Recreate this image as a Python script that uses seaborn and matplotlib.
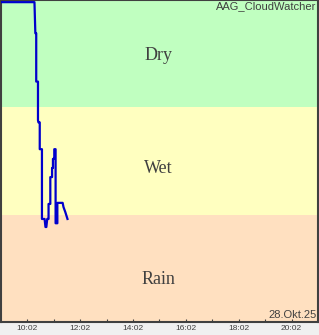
import matplotlib
matplotlib.use("Agg")
import matplotlib.pyplot as plt
import seaborn as sns
import pandas as pd

# Time in minutes relative to 10:02, value in sensor units
minutes = [-59, 16, 18, 20, 20, 24, 24, 25, 28, 28, 33, 33, 39, 41, 43, 45, 48, 48,
           52, 52, 56, 56, 58, 58, 61, 61, 64, 64, 68, 68, 73, 80, 82, 86, 91]
values = [2980, 2980, 2690, 2690, 2240, 2240, 1880, 1860, 1860, 1610, 1610, 960, 960,
          885, 885, 960, 960, 1100, 1100, 1350, 1350, 1435, 1435, 1520, 1520, 1610,
          1610, 920, 920, 1110, 1110, 1110, 1070, 1025, 960]

band_names = ["Rain", "Wet", "Dry"]
band_edges = [0, 1000, 2000, 3000]
band_colors = ["#FFE0C0", "#FFFFC0", "#C0FFC0"]
tick_labels = ["10:02", "12:02", "14:02", "16:02", "18:02", "20:02"]
title = "AAG_CloudWatcher"
date_label = "28.Okt.25"

start = 10 * 60 + 2
df = pd.DataFrame({"t": [start + m for m in minutes], "v": values})

fig = plt.figure(figsize=(3.19, 3.35), dpi=100, facecolor="#F0F0F0")
ax = fig.add_axes([1 / 319, 13 / 335, 317 / 319, 322 / 335])

for i, name in enumerate(band_names):
    ax.axhspan(band_edges[i], band_edges[i + 1], color=band_colors[i], lw=0, zorder=0)

sns.lineplot(data=df, x="t", y="v", ax=ax, color="#0000CC", linewidth=1.6,
             estimator=None, sort=False, zorder=3)

ax.set_xlim(start - 60, start + 11 * 60)
ax.set_ylim(band_edges[0], band_edges[-1])

ax.set_xticks([start + 60 * k for k in range(0, 11)])
ax.set_xticklabels([tick_labels[k // 2] if k % 2 == 0 else "" for k in range(0, 11)],
                   fontsize=6, family="Liberation Sans", color="#404040")
ax.tick_params(axis="x", direction="in", length=2.2, width=0.8, color="#404040", pad=2.5)
ax.set_yticks([])
ax.set_xlabel("")
ax.set_ylabel("")
for s in ax.spines.values():
    s.set_color("#404040")
    s.set_linewidth(1.5)

baselines = [0.118, 0.4627, 0.8137]
for name, yb in zip(band_names, baselines):
    ax.text(0.497, yb, name, transform=ax.transAxes, ha="center", va="baseline",
            fontsize=13, family="Liberation Serif", color="#404040")

ax.text(0.995, 0.995, title, transform=ax.transAxes, ha="right", va="top",
        fontsize=8, family="Liberation Sans", color="#404040")
ax.text(0.995, 0.005, date_label, transform=ax.transAxes, ha="right", va="bottom",
        fontsize=8, family="Liberation Sans", color="#404040")

fig.savefig("out.png", dpi=100, facecolor="#F0F0F0")
